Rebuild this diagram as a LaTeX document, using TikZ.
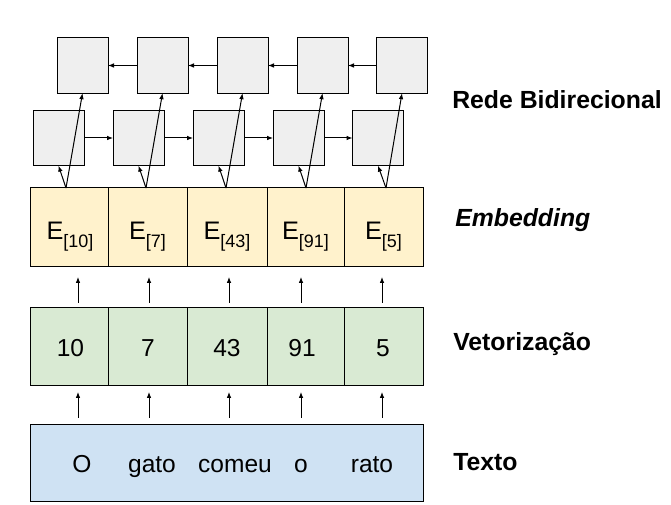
\documentclass[tikz,border=0pt]{standalone}
\usepackage{fontspec}
\setmainfont{Liberation Sans}
\usetikzlibrary{arrows.meta}
\definecolor{boxgray}{HTML}{EFEFEF}
\definecolor{embyellow}{HTML}{FFF2CC}
\definecolor{vecgreen}{HTML}{D9EAD3}
\definecolor{txtblue}{HTML}{CFE2F3}
\newcommand{\esub}[1]{{\fontsize{19}{19}\selectfont E}\raisebox{-5.5pt}{\fontsize{13.5}{13.5}\selectfont[#1]}}
\begin{document}
\begin{tikzpicture}[x=0.75pt,y=-0.75pt,
  cell/.style={draw=black,line width=0.75pt,inner sep=0pt,outer sep=0pt,minimum width=#1*0.75pt},
  rnn/.style={draw=black,line width=0.75pt,fill=boxgray,inner sep=0pt,outer sep=0pt,minimum width=38.25pt,minimum height=41.5pt},
  arr/.style={line width=0.75pt,-{Latex[length=4.5pt,width=3.5pt]}},
  lbl/.style={anchor=base west,font=\fontsize{18.6}{18.6}\selectfont\bfseries,inner sep=0pt},
  txt/.style={font=\fontsize{18.4}{18.4}\selectfont,inner sep=0pt,anchor=base}]
\useasboundingbox (0,0) rectangle (671,505);
% text box
\node[cell=393,fill=txtblue,minimum height=57.75pt] (t) at (226.5,463.5) {};
\node[txt] (w1) at (82,473) {O};
\node[txt] (w2) at (152,473) {gato};
\node[txt] (w3) at (235,473) {comeu};
\node[txt] (w4) at (301,473) {o};
\node[txt] (w5) at (372,473) {rato};
% vector cells
\node[cell=78,fill=vecgreen,minimum height=58.5pt] (v1) at (69,347) {};
\node[cell=79,fill=vecgreen,minimum height=58.5pt] (v2) at (147.5,347) {};
\node[cell=80,fill=vecgreen,minimum height=58.5pt] (v3) at (227,347) {};
\node[cell=77,fill=vecgreen,minimum height=58.5pt] (v4) at (305.5,347) {};
\node[cell=79,fill=vecgreen,minimum height=58.5pt] (v5) at (383.5,347) {};
\node[txt] (n1) at (70.5,357) {10};
\node[txt] (n2) at (148,357) {7};
\node[txt] (n3) at (227,357) {43};
\node[txt] (n4) at (302,357) {91};
\node[txt] (n5) at (383,357) {5};
% embedding cells
\node[cell=78,fill=embyellow,minimum height=59.25pt] (e1) at (69,227.5) {};
\node[cell=79,fill=embyellow,minimum height=59.25pt] (e2) at (147.5,227.5) {};
\node[cell=80,fill=embyellow,minimum height=59.25pt] (e3) at (227,227.5) {};
\node[cell=77,fill=embyellow,minimum height=59.25pt] (e4) at (305.5,227.5) {};
\node[cell=79,fill=embyellow,minimum height=59.25pt] (e5) at (383.5,227.5) {};
\node[txt] (m1) at (70,240) {\esub{10}};
\node[txt] (m2) at (147.5,240) {\esub{7}};
\node[txt] (m3) at (227,240) {\esub{43}};
\node[txt] (m4) at (305.5,240) {\esub{91}};
\node[txt] (m5) at (383.5,240) {\esub{5}};
% forward rnn row
\node[rnn] (f1) at (58.5,138) {};
\node[rnn] (f2) at (138.5,138) {};
\node[rnn] (f3) at (218.5,138) {};
\node[rnn] (f4) at (298.5,138) {};
\node[rnn] (f5) at (378,138) {};
% backward rnn row
\node[rnn] (b1) at (82.5,65.5) {};
\node[rnn] (b2) at (162.5,65.5) {};
\node[rnn] (b3) at (242.5,65.5) {};
\node[rnn] (b4) at (322.5,65.5) {};
\node[rnn] (b5) at (402,65.5) {};
% horizontal arrows
\foreach \i/\j in {1/2,2/3,3/4,4/5}{
  \draw[arr] (f\i.east) -- (f\j.west);
  \draw[arr] (b\j.west) -- (b\i.east);
}
% embedding to rnn arrows
\foreach \i/\x in {1/66,2/146,3/226,4/306,5/386}{
  \coordinate (o\i) at (\x,188);
  \draw[arr] (o\i) -- (f\i.south);
  \draw[arr] (o\i) -- (b\i.south);
}
% vertical arrows
\foreach \i/\x in {1/78,2/149,3/229,4/301,5/382}{
  \coordinate (p\i) at (\x,303);
  \coordinate (q\i) at (\x,277);
  \coordinate (r\i) at (\x,418);
  \coordinate (s\i) at (\x,392);
  \draw[arr] (p\i) -- (q\i);
  \draw[arr] (r\i) -- (s\i);
}
% labels
\node[lbl] (l1) at (452,109) {Rede Bidirecional};
\node[lbl] (l2) at (455,227) {\itshape Embedding};
\node[lbl] (l3) at (453,351) {Vetorização};
\node[lbl] (l4) at (453,471) {Texto};
\end{tikzpicture}
\end{document}
